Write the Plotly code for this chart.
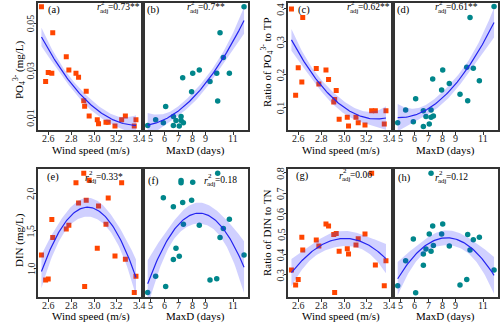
import numpy as np
import plotly.graph_objects as go

# ---- data -------------------------------------------------------------
wind_speed = [2.534, 2.571, 2.594, 2.626, 2.634, 2.754, 2.777, 2.840, 2.863, 2.909, 2.917,
              2.931, 2.957, 3.029, 3.040, 3.106, 3.126, 3.186, 3.245, 3.278, 3.357, 3.372]
po4_ws = [0.0570, 0.0254, 0.0292, 0.0289, 0.0460, 0.0359, 0.0303, 0.0289, 0.0272, 0.0173, 0.0149,
          0.0213, 0.0108, 0.0092, 0.0075, 0.0082, 0.0082, 0.0066, 0.0092, 0.0108, 0.0066, 0.0092]
po4tp_ws = [0.400, 0.137, 0.221, 0.177, 0.374, 0.218, 0.171, 0.214, 0.185, 0.116, 0.124,
            0.151, 0.064, 0.070, 0.043, 0.070, 0.053, 0.046, 0.090, 0.090, 0.049, 0.090]
din_ws = [1.178, 0.844, 0.858, 1.649, 1.409, 1.524, 1.573, 2.142, 1.871, 2.267, 0.756,
          1.907, 2.173, 1.267, 1.831, 1.587, 1.938, 1.164, 2.142, 1.120, 0.676, 0.893]
dintn_ws = [0.323, 0.249, 0.277, 0.484, 0.421, 0.470, 0.441, 0.549, 0.539, 0.497, 0.213,
            0.503, 0.415, 0.428, 0.402, 0.446, 0.477, 0.500, 0.798, 0.348, 0.246, 0.369]

maxd = [4.76, 5.34, 5.90, 6.07, 6.63, 6.63, 6.82, 7.06, 7.19, 7.19, 7.31,
        7.36, 7.96, 8.04, 8.52, 9.30, 9.79, 9.86, 10.03, 10.27, 10.71, 11.78]
po4_md = [0.0068, 0.0092, 0.0080, 0.0148, 0.0106, 0.0068, 0.0089, 0.0066, 0.0106, 0.0089, 0.0270,
          0.0080, 0.0211, 0.0289, 0.0303, 0.0254, 0.0289, 0.0172, 0.0460, 0.0356, 0.0289, 0.0570]
po4tp_md = [0.053, 0.092, 0.056, 0.126, 0.090, 0.042, 0.072, 0.049, 0.092, 0.070, 0.186,
            0.074, 0.153, 0.214, 0.173, 0.140, 0.222, 0.120, 0.374, 0.219, 0.181, 0.407]
din_md = [0.676, 0.893, 1.942, 0.756, 1.822, 1.116, 1.267, 1.160, 2.169, 2.142, 1.876,
          1.587, 1.907, 2.147, 1.573, 0.844, 0.862, 2.267, 1.409, 1.529, 1.653, 1.178]
dintn_md = [0.246, 0.369, 0.475, 0.211, 0.402, 0.346, 0.426, 0.500, 0.798, 0.415, 0.539,
            0.444, 0.500, 0.549, 0.441, 0.249, 0.277, 0.497, 0.421, 0.472, 0.484, 0.323]

panel_tags = ["(a)", "(b)", "(c)", "(d)", "(e)", "(f)", "(g)", "(h)"]
r2_texts = ["=0.73**", "=0.7**", "=0.62**", "=0.61**", "=0.33*", "=0.18", "=0.06", "=0.12"]

ws_ticks = [2.6, 2.8, 3.0, 3.2, 3.4]
ws_ticktext = ["2.6", "2.8", "3.0", "3.2", "3.4"]
md_ticks = [5, 6, 7, 8, 9, 11]
md_ticktext = ["5", "6", "7", "8", "9", "11"]
y_ticks = [[0.01, 0.03, 0.05], [0.1, 0.2, 0.3, 0.4], [1.0, 1.5, 2.0],
           [0.3, 0.4, 0.5, 0.6, 0.7, 0.8]]
y_ticktext = [["0.01", "0.03", "0.05"], ["0.1", "0.2", "0.3", "0.4"], ["1.0", "1.5", "2.0"],
              ["0.3", "0.4", "0.5", "0.6", "0.7", "0.8"]]
y_titles = ["PO<sub>4</sub><sup>3-</sup> (mg/L)", "Ratio of PO<sub>4</sub><sup>3-</sup> to TP",
            "DIN (mg/L)", "Ratio of DIN to TN"]

# ---- styling / layout constants ---------------------------------------
W, H = 500, 333
FONT = "Liberation Serif"
ORANGE = "#FF4500"
TEAL = "#00868B"
LINE_BLUE = "#2424F0"
BAND = "rgba(40,40,255,0.22)"
FRAME = "#333333"
TICK_TXT = "#222222"

ws_range = [2.506, 3.437]
md_range = [4.44, 12.09]
y_ranges = [[0.0049, 0.0585], [0.031, 0.417], [0.613, 2.32], [0.189, 0.818]]

# pixel boxes of the panels
col_px = [(38.3, 143.3), (143.3, 248.3), (288.3, 393.3), (393.3, 498.3)]
row_px = [(3.3, 130.0), (169.3, 297.3)]

# band half-width in standard errors of the fitted mean
SE_MULT = 1.0


def quad_fit(x, y, n=90):
    """Quadratic least-squares fit with a standard-error band."""
    x = np.asarray(x, float)
    y = np.asarray(y, float)
    xm = x.mean()
    X = np.column_stack([np.ones_like(x), x - xm, (x - xm) ** 2])
    beta, *_ = np.linalg.lstsq(X, y, rcond=None)
    resid = y - X @ beta
    s2 = resid @ resid / (len(x) - 3)
    cov = s2 * np.linalg.inv(X.T @ X)
    xs = np.linspace(x.min(), x.max(), n)
    G = np.column_stack([np.ones_like(xs), xs - xm, (xs - xm) ** 2])
    fit = G @ beta
    se = np.sqrt(np.einsum("ij,jk,ik->i", G, cov, G))
    return xs, fit, fit - SE_MULT * se, fit + SE_MULT * se


def px_x(p):
    return p / W


def px_y(p):
    return 1 - p / H


panels = [
    (wind_speed, po4_ws, "ws", 0, 0, 0), (maxd, po4_md, "md", 0, 1, 0),
    (wind_speed, po4tp_ws, "ws", 0, 2, 1), (maxd, po4tp_md, "md", 0, 3, 1),
    (wind_speed, din_ws, "ws", 1, 0, 2), (maxd, din_md, "md", 1, 1, 2),
    (wind_speed, dintn_ws, "ws", 1, 2, 3), (maxd, dintn_md, "md", 1, 3, 3),
]

fig = go.Figure()
layout = {}
annotations = []
tick_font = dict(family=FONT, size=10, color=TICK_TXT)

for i, (xv, yv, kind, row, col, var) in enumerate(panels):
    k = "" if i == 0 else str(i + 1)
    xa, ya = "x" + k, "y" + k
    color = ORANGE if kind == "ws" else TEAL
    symbol = "square" if kind == "ws" else "circle"

    fig.add_trace(go.Scatter(x=xv, y=yv, mode="markers", xaxis=xa, yaxis=ya,
                             marker=dict(color=color, symbol=symbol, size=5.5 if kind == "md" else 5,
                                         line=dict(width=0)),
                             showlegend=False, hoverinfo="skip"))
    xs, fit, lo, hi = quad_fit(xv, yv)
    fig.add_trace(go.Scatter(x=np.concatenate([xs, xs[::-1]]), y=np.concatenate([hi, lo[::-1]]),
                             mode="lines", fill="toself", fillcolor=BAND, line=dict(width=0),
                             xaxis=xa, yaxis=ya, showlegend=False, hoverinfo="skip"))
    fig.add_trace(go.Scatter(x=xs, y=fit, mode="lines", line=dict(color=LINE_BLUE, width=1.2),
                             xaxis=xa, yaxis=ya, showlegend=False, hoverinfo="skip"))

    l, r = col_px[col]
    t, b = row_px[row]
    left_panel = col in (0, 2)
    xt = ws_ticks if kind == "ws" else md_ticks
    xtt = ws_ticktext if kind == "ws" else md_ticktext
    layout["xaxis" + k] = dict(
        domain=[px_x(l), px_x(r)], anchor=ya, range=ws_range if kind == "ws" else md_range,
        tickvals=xt, showticklabels=False,
        ticks="outside", ticklen=3, tickwidth=1, tickcolor=FRAME,
        showline=True, mirror=True, linecolor=FRAME, linewidth=1.5,
        showgrid=False, zeroline=False)
    layout["yaxis" + k] = dict(
        domain=[px_y(b), px_y(t)], anchor=xa, range=y_ranges[var],
        tickvals=y_ticks[var] if left_panel else [], showticklabels=False,
        ticks="outside" if left_panel else "", ticklen=3, tickwidth=1, tickcolor=FRAME,
        showline=True, mirror=True, linecolor=FRAME, linewidth=1.5,
        showgrid=False, zeroline=False)

    # x tick labels
    for v, s in zip(xt, xtt):
        annotations.append(dict(x=v, y=px_y(b + 8), xref=xa, yref="paper", text=s,
                                showarrow=False, xanchor="center", yanchor="middle",
                                font=tick_font))
    # y tick labels (rotated, left panels only)
    if left_panel:
        for v, s in zip(y_ticks[var], y_ticktext[var]):
            annotations.append(dict(x=px_x(l - 7.5), y=v, xref="paper", yref=ya, text=s,
                                    textangle=-90, showarrow=False,
                                    xanchor="center", yanchor="middle", font=tick_font))

# x-axis titles
for row, ypix in ((0, 150), (1, 316.5)):
    for col in range(4):
        l, r = col_px[col]
        annotations.append(dict(
            x=px_x((l + r) / 2), y=px_y(ypix), xref="paper", yref="paper",
            text="Wind speed (m/s)" if col in (0, 2) else "MaxD (days)",
            showarrow=False, xanchor="center", yanchor="middle",
            font=dict(family=FONT, size=11, color="black")))

# y-axis titles
for var, (xpix, ypix) in enumerate([(19, 70), (267, 62), (19, 240), (267, 233)]):
    annotations.append(dict(
        x=px_x(xpix), y=px_y(ypix), xref="paper", yref="paper", text=y_titles[var],
        textangle=-90, showarrow=False, xanchor="center", yanchor="middle",
        font=dict(family=FONT, size=11, color="black")))

# panel tags
tag_pos = [(45.5, 10), (145, 10), (295.5, 10), (395, 10),
           (45, 177), (146, 181), (294, 176), (396, 178)]
for tag, (xpix, ypix) in zip(panel_tags, tag_pos):
    annotations.append(dict(
        x=px_x(xpix), y=px_y(ypix), xref="paper", yref="paper", text=tag,
        showarrow=False, xanchor="left", yanchor="middle",
        font=dict(family=FONT, size=10.5, color="black")))

# adjusted r-squared labels: r with stacked 2 / adj, then the value
r2_pos = [(95, 7), (185, 7), (345, 7), (433, 7),
          (83, 177), (202, 180), (337, 175), (433, 177)]
for txt, (xpix, ypix) in zip(r2_texts, r2_pos):
    common = dict(xref="paper", yref="paper", showarrow=False, xanchor="left", yanchor="middle")
    annotations.append(dict(x=px_x(xpix), y=px_y(ypix), text="r",
                            font=dict(family=FONT, size=10, color="black", style="italic"),
                            **common))
    annotations.append(dict(x=px_x(xpix + 4), y=px_y(ypix - 4), text="2",
                            font=dict(family=FONT, size=7, color="black"), **common))
    annotations.append(dict(x=px_x(xpix + 3), y=px_y(ypix + 4), text="adj",
                            font=dict(family=FONT, size=7, color="black"), **common))
    annotations.append(dict(x=px_x(xpix + 11), y=px_y(ypix), text=txt,
                            font=dict(family=FONT, size=9.5, color="black"), **common))

fig.update_layout(
    width=W, height=H, margin=dict(l=0, r=0, t=0, b=0),
    paper_bgcolor="white", plot_bgcolor="white",
    annotations=annotations, **layout)

fig.write_html("out.html")
